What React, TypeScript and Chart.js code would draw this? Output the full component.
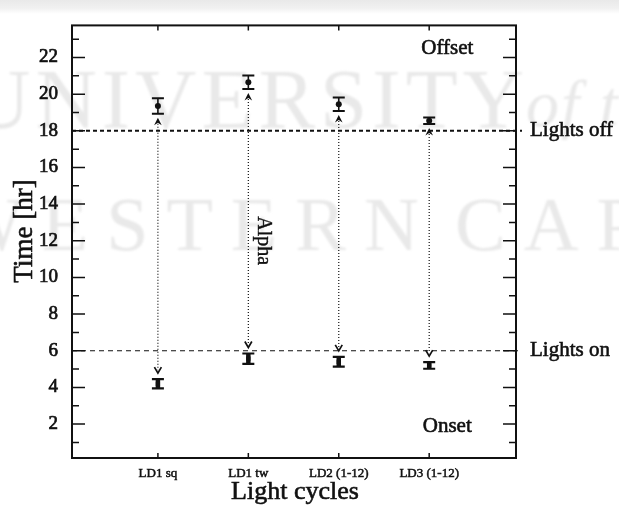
import { useEffect, useRef } from "react";
import { Chart, registerables } from "chart.js";

Chart.register(...registerables);

// Light-cycle conditions along the x axis
const categories = ["LD1 sq", "LD1 tw", "LD2 (1-12)", "LD3 (1-12)"];

// Activity offset (hr): mean and error
const offsetMean = [19.35, 20.65, 19.45, 18.55];
const offsetErr = [0.42, 0.37, 0.37, 0.18];

// Activity onset (hr): mean and error
const onsetMean = [4.2, 5.57, 5.4, 5.2];
const onsetErr = [0.25, 0.28, 0.27, 0.18];

// Light schedule reference times (hr)
const lightsOff = 18;
const lightsOn = 6;

// Y ticks: every hour, labels on even hours
const yTickValues = [1, 2, 3, 4, 5, 6, 7, 8, 9, 10, 11, 12, 13, 14, 15, 16, 17, 18, 19, 20, 21, 22, 23];

const SERIF = "'Liberation Serif', 'DejaVu Serif', serif";
const INK = "#111";

// filled text with a thin outline so the glyphs read a little heavier
function heavyText(ctx: CanvasRenderingContext2D, s: string, x: number, y: number, w = 0.6) {
  ctx.fillText(s, x, y);
  ctx.lineWidth = w;
  ctx.strokeText(s, x, y);
}

const overlay = {
  id: "overlay",
  beforeDraw(chart: any) {
    const { ctx, width, height } = chart;
    ctx.save();
    ctx.fillStyle = "#ffffff";
    ctx.fillRect(0, 0, width, height);
    const g = ctx.createLinearGradient(0, 0, 0, 14);
    g.addColorStop(0, "#e9e9e9");
    g.addColorStop(0.6, "#f1f1f1");
    g.addColorStop(1, "#ffffff");
    ctx.fillStyle = g;
    ctx.fillRect(0, 0, width, 14);

    // faint background watermark
    ctx.filter = "blur(1px)";
    ctx.fillStyle = "#e9e9e9";
    ctx.textBaseline = "alphabetic";
    ctx.textAlign = "left";
    ctx.font = `85px ${SERIF}`;
    (ctx as any).letterSpacing = "5px";
    ctx.fillText("UNIVERSITY", -31, 128);
    ctx.font = `italic 66px ${SERIF}`;
    (ctx as any).letterSpacing = "2px";
    ctx.fillText("of the", 526, 126);
    ctx.font = `76px ${SERIF}`;
    (ctx as any).letterSpacing = "18px";
    ctx.fillText("WESTERN", -48, 250);
    ctx.fillText("CAPE", 455, 250);
    (ctx as any).letterSpacing = "0px";
    ctx.restore();
  },
  beforeDatasetsDraw(chart: any) {
    const { ctx, chartArea: a } = chart;
    const xs = chart.scales.x;
    const ys = chart.scales.y;
    ctx.save();
    ctx.strokeStyle = INK;
    ctx.fillStyle = INK;

    // lights-off reference line
    const yOff = ys.getPixelForValue(lightsOff);
    ctx.lineWidth = 2;
    ctx.setLineDash([4, 3]);
    ctx.beginPath();
    ctx.moveTo(a.left, yOff);
    ctx.lineTo(a.right + 6, yOff);
    ctx.stroke();

    // lights-on reference line
    const yOn = ys.getPixelForValue(lightsOn);
    ctx.lineWidth = 1.2;
    ctx.setLineDash([5, 4]);
    ctx.beginPath();
    ctx.moveTo(a.left, yOn);
    ctx.lineTo(a.right + 6, yOn);
    ctx.stroke();

    categories.forEach((_, i) => {
      const x = xs.getPixelForValue(i + 1);
      const offLo = ys.getPixelForValue(offsetMean[i] - offsetErr[i]);
      const offHi = ys.getPixelForValue(offsetMean[i] + offsetErr[i]);
      const onLo = ys.getPixelForValue(onsetMean[i] - onsetErr[i]);
      const onHi = ys.getPixelForValue(onsetMean[i] + onsetErr[i]);
      const topTip = offLo + 4;
      const botTip = onHi - 6;

      // dotted alpha span
      ctx.lineWidth = 1.2;
      ctx.setLineDash([1, 2]);
      ctx.beginPath();
      ctx.moveTo(x, topTip + 3);
      ctx.lineTo(x, botTip - 3);
      ctx.stroke();
      ctx.setLineDash([]);

      // arrowhead pointing up (offset)
      ctx.beginPath();
      ctx.moveTo(x, topTip);
      ctx.lineTo(x + 3.8, topTip + 7.5);
      ctx.lineTo(x, topTip + 5);
      ctx.lineTo(x - 3.8, topTip + 7.5);
      ctx.closePath();
      ctx.fill();

      // arrowhead pointing down (onset)
      ctx.lineWidth = 1.7;
      ctx.beginPath();
      ctx.moveTo(x - 3.5, botTip - 6);
      ctx.lineTo(x, botTip);
      ctx.lineTo(x + 3.5, botTip - 6);
      ctx.stroke();

      // offset error bar
      ctx.lineWidth = 1.6;
      ctx.beginPath();
      ctx.moveTo(x, offHi);
      ctx.lineTo(x, offLo);
      ctx.stroke();
      ctx.lineWidth = 2;
      ctx.beginPath();
      ctx.moveTo(x - 6, offHi);
      ctx.lineTo(x + 6, offHi);
      ctx.moveTo(x - 6, offLo);
      ctx.lineTo(x + 6, offLo);
      ctx.stroke();

      // onset error bar
      ctx.lineWidth = 4.5;
      ctx.beginPath();
      ctx.moveTo(x, onHi);
      ctx.lineTo(x, onLo);
      ctx.stroke();
      ctx.lineWidth = 2.2;
      ctx.beginPath();
      ctx.moveTo(x - 6, onHi);
      ctx.lineTo(x + 6, onHi);
      ctx.moveTo(x - 6, onLo);
      ctx.lineTo(x + 6, onLo);
      ctx.stroke();
    });
    ctx.restore();
  },
  afterDraw(chart: any) {
    const { ctx, chartArea: a } = chart;
    const xs = chart.scales.x;
    const ys = chart.scales.y;
    ctx.save();
    ctx.strokeStyle = INK;
    ctx.fillStyle = INK;
    ctx.setLineDash([]);

    // frame
    ctx.lineWidth = 2;
    ctx.strokeRect(a.left, a.top, a.right - a.left, a.bottom - a.top);

    // inward ticks on left and right
    ctx.lineWidth = 1.5;
    ctx.beginPath();
    yTickValues.forEach((v) => {
      const y = ys.getPixelForValue(v);
      const len = v % 2 === 0 ? 13 : 7;
      ctx.moveTo(a.left, y);
      ctx.lineTo(a.left + len, y);
      ctx.moveTo(a.right, y);
      ctx.lineTo(a.right - len, y);
    });
    // inward ticks on top and bottom at categories
    categories.forEach((_, i) => {
      const x = xs.getPixelForValue(i + 1);
      ctx.moveTo(x, a.top);
      ctx.lineTo(x, a.top + 5);
      ctx.moveTo(x, a.bottom);
      ctx.lineTo(x, a.bottom - 5);
    });
    ctx.stroke();

    // annotations
    ctx.font = `21px ${SERIF}`;
    ctx.textBaseline = "middle";
    ctx.textAlign = "left";
    heavyText(ctx, "Lights off", a.right + 14, ys.getPixelForValue(lightsOff));
    heavyText(ctx, "Lights on", a.right + 14, ys.getPixelForValue(lightsOn));
    ctx.textAlign = "center";
    heavyText(ctx, "Offset", xs.getPixelForValue(4.2), ys.getPixelForValue(22.5));
    heavyText(ctx, "Onset", xs.getPixelForValue(4.2), ys.getPixelForValue(1.85));

    // alpha label, rotated
    ctx.save();
    ctx.font = `20px ${SERIF}`;
    ctx.translate(xs.getPixelForValue(2) + 15, ys.getPixelForValue(12));
    ctx.rotate(Math.PI / 2);
    heavyText(ctx, "Alpha", 0, 0, 0.4);
    ctx.restore();

    // axis titles
    ctx.font = `27px ${SERIF}`;
    ctx.save();
    ctx.translate(25, 231);
    ctx.rotate(-Math.PI / 2);
    heavyText(ctx, "Time [hr]", 0, 0);
    ctx.restore();
    ctx.font = `26px ${SERIF}`;
    heavyText(ctx, "Light cycles", (a.left + a.right) / 2 + 1, 492);
    ctx.restore();
  },
};

export default function App() {
  const ref = useRef<HTMLCanvasElement>(null);

  useEffect(() => {
    const chart = new Chart(ref.current as HTMLCanvasElement, {
      type: "scatter",
      data: {
        datasets: [
          {
            label: "Offset",
            data: offsetMean.map((y, i) => ({ x: i + 1, y })),
            pointStyle: "circle",
            pointRadius: 3,
            backgroundColor: INK,
            borderColor: INK,
            borderWidth: 0,
          },
          {
            label: "Onset",
            data: onsetMean.map((y, i) => ({ x: i + 1, y })),
            pointStyle: "rect",
            pointRadius: 3,
            backgroundColor: INK,
            borderColor: INK,
            borderWidth: 0,
          },
        ],
      },
      options: {
        animation: false,
        responsive: false,
        events: [],
        layout: { padding: { left: 0, top: 14, right: 103, bottom: 0 } },
        plugins: { legend: { display: false }, tooltip: { enabled: false } },
        scales: {
          x: {
            type: "linear",
            min: 0.05,
            max: 4.96,
            grid: { display: false, drawTicks: false },
            border: { display: false },
            afterBuildTicks: (s: any) => {
              s.ticks = categories.map((_, i) => ({ value: i + 1 }));
            },
            afterFit: (s: any) => {
              s.height = 50;
            },
            ticks: {
              autoSkip: false,
              maxRotation: 0,
              padding: 8,
              color: INK,
              textStrokeColor: INK,
              textStrokeWidth: 0.5,
              font: { family: SERIF, size: 13 },
              callback: (v: any) => categories[Number(v) - 1] ?? "",
            },
          },
          y: {
            type: "linear",
            min: 0.15,
            max: 23.75,
            grid: { display: false, drawTicks: false },
            border: { display: false },
            afterBuildTicks: (s: any) => {
              s.ticks = yTickValues.map((v) => ({ value: v }));
            },
            afterFit: (s: any) => {
              s.width = 72;
            },
            ticks: {
              autoSkip: false,
              padding: 14,
              color: INK,
              textStrokeColor: INK,
              textStrokeWidth: 0.7,
              font: { family: SERIF, size: 19 },
              callback: (v: any) => (Number(v) % 2 === 0 ? String(v) : ""),
            },
          },
        },
      },
      plugins: [overlay],
    });
    return () => chart.destroy();
  }, []);

  return (
    <canvas
      ref={ref}
      width={619}
      height={508}
      style={{ position: "fixed", left: 0, top: 0, width: 619, height: 508 }}
    />
  );
}
